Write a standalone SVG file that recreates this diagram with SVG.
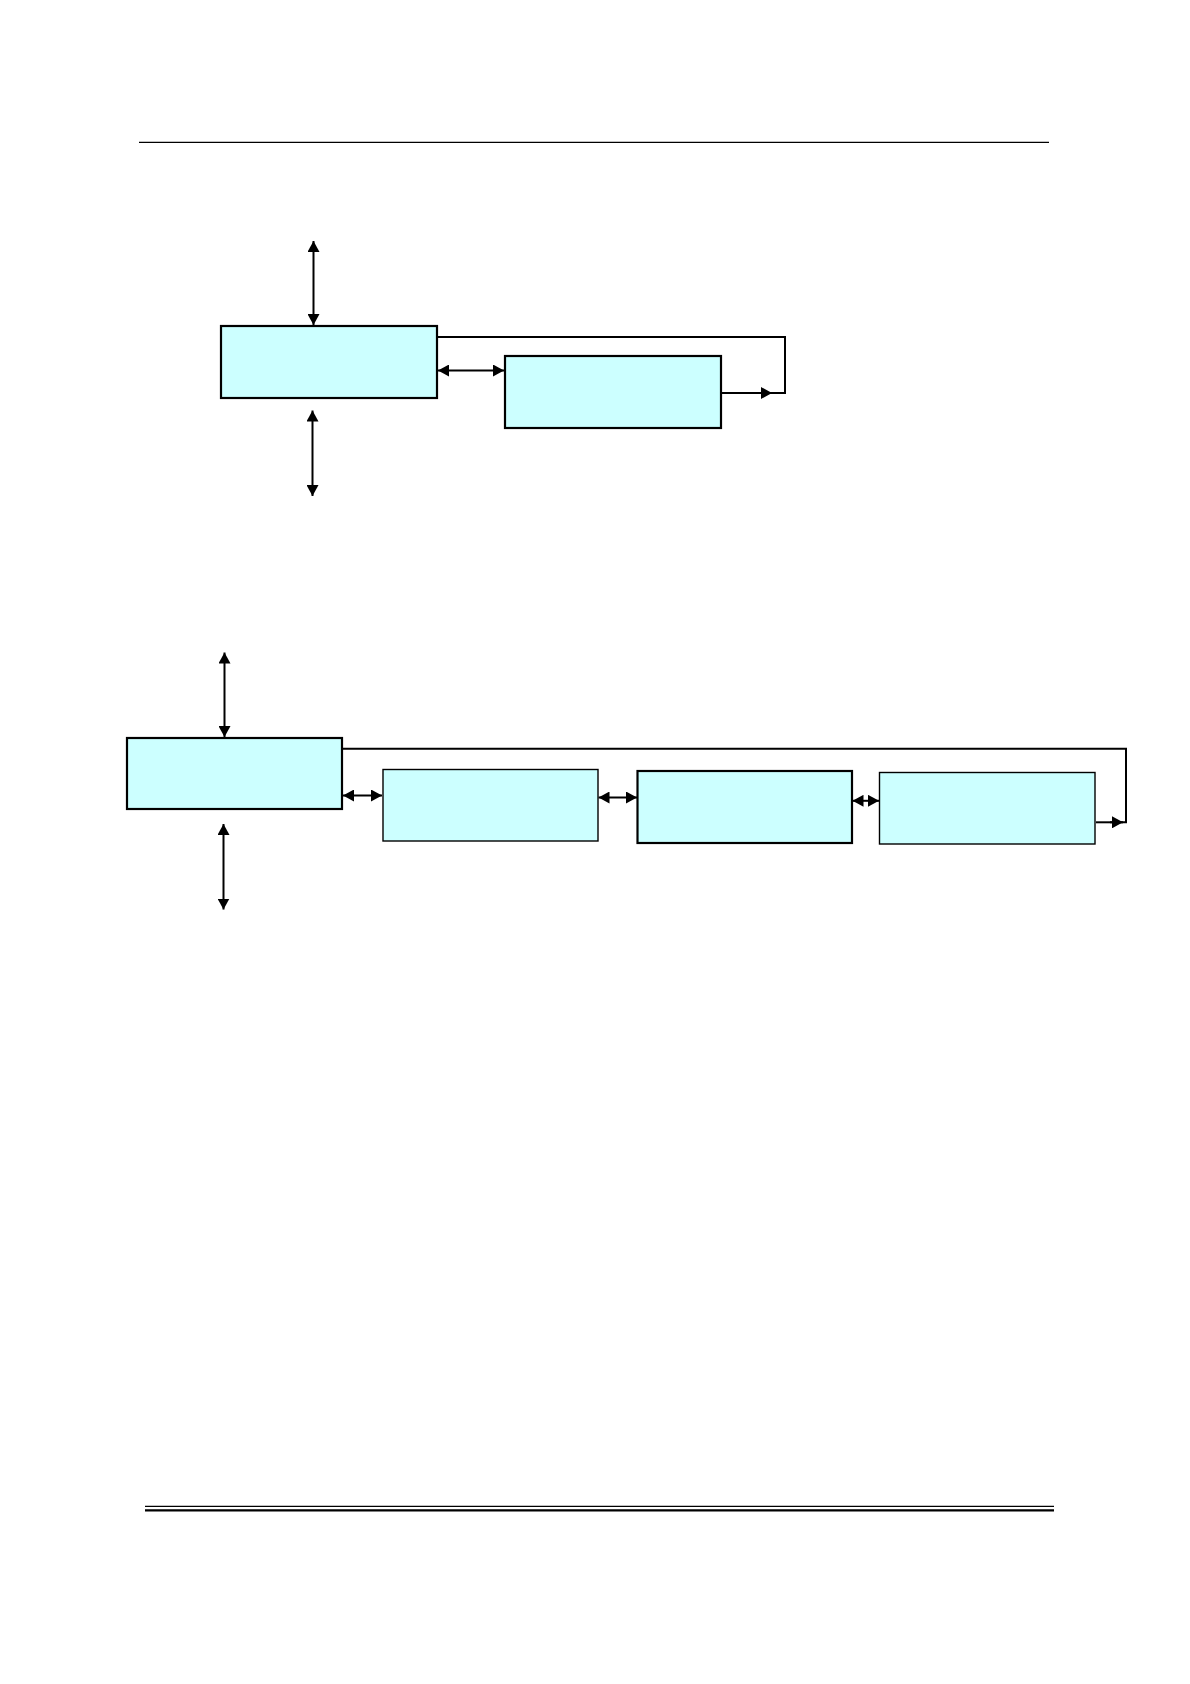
<svg xmlns="http://www.w3.org/2000/svg" width="1190" height="1684" viewBox="0 0 1190 1684">
<style>
.box{fill:#CCFFFF;stroke:#000;stroke-width:2.2}
.thin{stroke-width:1.4}
.c{fill:none;stroke:#000;stroke-width:2}
.a{marker-end:url(#ah)}
.d{marker-start:url(#ah);marker-end:url(#ah)}
</style>
<defs>
<marker id="ah" markerUnits="userSpaceOnUse" viewBox="0 0 11 12" refX="11" refY="6" markerWidth="11" markerHeight="12" orient="auto-start-reverse">
<path d="M0,0 L11,6 L0,12 z" fill="#000"/>
</marker>
</defs>
<rect width="1190" height="1684" fill="#fff"/>
<g id="page-lines">
<line x1="139" y1="142.3" x2="1049" y2="142.3" stroke="#000" stroke-width="1.3"/>
<line x1="145" y1="1506.3" x2="1054" y2="1506.3" stroke="#000" stroke-width="1.3"/>
<line x1="145" y1="1510.3" x2="1054" y2="1510.3" stroke="#000" stroke-width="2.2"/>
</g>
<g id="node-top1"><rect class="box" x="221" y="326" width="216" height="72"/></g>
<g id="node-top2"><rect class="box" x="505" y="356" width="216" height="72"/></g>
<g id="node-bot1"><rect class="box" x="127" y="738" width="215" height="71"/></g>
<g id="node-bot2"><rect class="box thin" x="383" y="769.5" width="215" height="71.5"/></g>
<g id="node-bot3"><rect class="box" x="637.5" y="771" width="214.5" height="72"/></g>
<g id="node-bot4"><rect class="box thin" x="879.5" y="772.5" width="215.5" height="71.5"/></g>
<g id="connectors">
<line class="c d" x1="313.5" y1="241" x2="313.5" y2="325"/>
<line class="c d" x1="312.5" y1="410.5" x2="312.5" y2="496"/>
<line class="c d" x1="438" y1="370.5" x2="504" y2="370.5"/>
<polyline class="c" points="438,337 785,337 785,393 760,393"/>
<line class="c a" x1="722" y1="393" x2="772" y2="393"/>
<line class="c d" x1="224.5" y1="652.5" x2="224.5" y2="737"/>
<line class="c d" x1="223.5" y1="824" x2="223.5" y2="909.5"/>
<line class="c d" x1="343" y1="795.5" x2="382" y2="795.5"/>
<line class="c d" x1="598.5" y1="797.5" x2="637" y2="797.5"/>
<line class="c d" x1="852.5" y1="800.8" x2="879" y2="800.8"/>
<polyline class="c" points="343,748.8 1126,748.8 1126,822.3 1110,822.3"/>
<line class="c a" x1="1096" y1="822.3" x2="1123" y2="822.3"/>
</g>
</svg>
